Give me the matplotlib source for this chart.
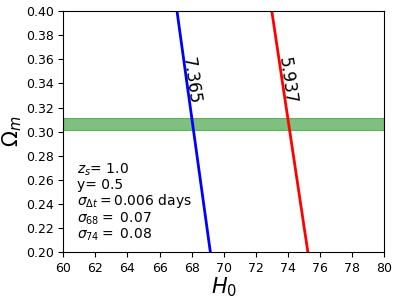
import matplotlib
matplotlib.use("Agg")
import matplotlib.pyplot as plt

# Contour lines (H0 at Omega_m = 0.2 and 0.4)
omega_pts = [0.20, 0.40]
blue_h0 = [69.17, 67.09]
red_h0 = [75.25, 73.00]
blue_label = "7.365"
red_label = "5.937"
blue_label_pos = (67.95, 0.342)
red_label_pos = (73.95, 0.342)

# Omega_m band
band_low, band_high = 0.301, 0.311

xticks = [60, 62, 64, 66, 68, 70, 72, 74, 76, 78, 80]
yticks = [0.20, 0.22, 0.24, 0.26, 0.28, 0.30, 0.32, 0.34, 0.36, 0.38, 0.40]

info = ("$z_s$= 1.0\n"
        "y= 0.5\n"
        r"$\sigma_{\Delta t}=$0.006 days" "\n"
        r"$\sigma_{68}=$ 0.07" "\n"
        r"$\sigma_{74}=$ 0.08")

fig = plt.figure(figsize=(3.98, 3.01), dpi=100)
ax = fig.add_axes([0.159, 0.162, 0.806, 0.801])

ax.fill_between([60, 80], band_low, band_high, color="green", alpha=0.5, lw=0.8)
ax.plot(blue_h0, omega_pts, color="blue", lw=2)
ax.plot(red_h0, omega_pts, color="red", lw=2)
ax.text(*blue_label_pos, blue_label, rotation=-82, ha="center", va="center", fontsize=12)
ax.text(*red_label_pos, red_label, rotation=-82, ha="center", va="center", fontsize=12)

ax.text(0.043, 0.375, info, transform=ax.transAxes, ha="left", va="top", fontsize=10,
        linespacing=1.0)

ax.set_xlim(60, 80)
ax.set_ylim(0.2, 0.4)
ax.set_xticks(xticks)
ax.set_yticks(yticks)
ax.set_yticklabels([f"{v:.2f}" for v in yticks])
ax.tick_params(labelsize=9)
ax.set_xlabel("$H_0$", fontsize=15, labelpad=0)
ax.set_ylabel(r"$\Omega_m$", fontsize=15, labelpad=1)

fig.savefig("out.png", dpi=100)
